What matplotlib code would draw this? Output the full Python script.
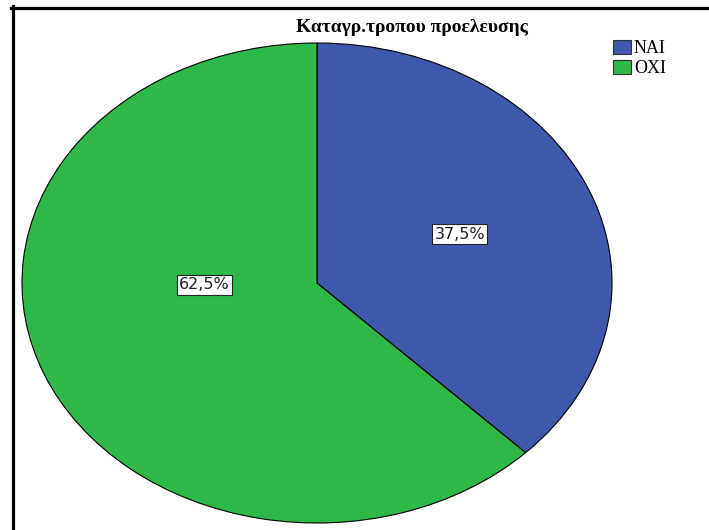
import matplotlib.pyplot as plt
from matplotlib.patches import Patch
from matplotlib.lines import Line2D

title = 'Καταγρ.τροπου προελευσης'
categories = ['ΝΑΙ', 'ΟΧΙ']
percents = [37.5, 62.5]
colors = ['#3e58ac', '#2eb848']

W, H = 709, 530
fig = plt.figure(figsize=(W / 100, H / 100), dpi=100)
fig.patch.set_facecolor('white')

# pie axes covers the ellipse's bounding box, aspect left free so it stretches
ax = fig.add_axes([22 / W, 7 / H, 590 / W, 480 / H])
wedges, _ = ax.pie(percents, colors=colors, startangle=90, counterclock=False,
                   wedgeprops=dict(edgecolor='black', linewidth=0.8))
ax.set_aspect('auto')
ax.set_xlim(-1, 1)
ax.set_ylim(-1, 1)

# label spots inside each wedge (axes fraction)
label_pos = [(0.742, 0.602), (0.309, 0.496)]
for (x, y), p in zip(label_pos, percents):
    ax.text(x, y, f'{p:.1f}%'.replace('.', ','), transform=ax.transAxes,
            ha='center', va='center', fontsize=11.5, family='DejaVu Sans',
            color='#222222',
            bbox=dict(boxstyle='square,pad=0.15', facecolor='white',
                      edgecolor='#222222', linewidth=0.8))

fig.text(412 / W, 1 - 28 / H, title, ha='center', va='center',
         family='Liberation Serif', fontweight='bold', fontsize=14)

handles = [Patch(facecolor=c, edgecolor='#333333', linewidth=0.8) for c in colors]
fig.legend(handles, categories, loc='upper left',
           bbox_to_anchor=(613 / W, 1 - 40 / H), frameon=False,
           prop=dict(family='Liberation Serif', size=13),
           handlelength=1.0, handleheight=0.8, handletextpad=0.15,
           labelspacing=0.17, borderaxespad=0, borderpad=0)

# frame lines along the top and left edge
fig.add_artist(Line2D([11 / W, 1], [1 - 7.5 / H, 1 - 7.5 / H],
                      transform=fig.transFigure, color='black', linewidth=2.3))
fig.add_artist(Line2D([12.5 / W, 12.5 / W], [0, 1 - 6 / H],
                      transform=fig.transFigure, color='black', linewidth=2.3))

fig.savefig('out.png', dpi=100)
